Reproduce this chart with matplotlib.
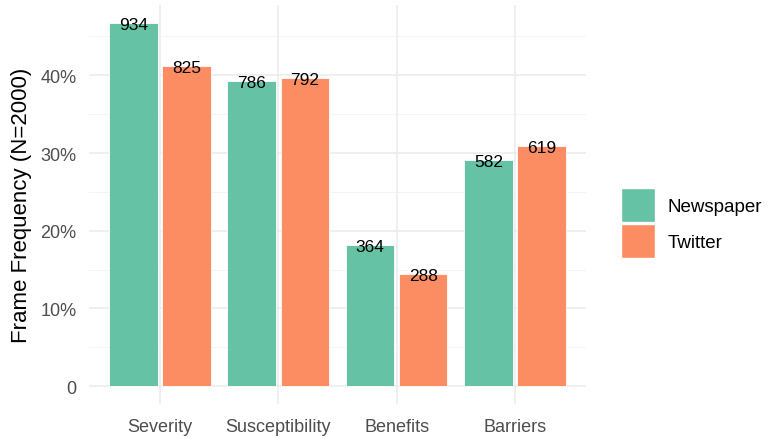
import numpy as np
import matplotlib.pyplot as plt
from matplotlib.patches import Patch

plt.rcParams['font.family'] = ['Liberation Sans', 'DejaVu Sans']

categories = ['Severity', 'Susceptibility', 'Benefits', 'Barriers']
newspaper = [934, 786, 364, 582]
twitter = [825, 792, 288, 619]
n_total = 2000

col_news = '#66C2A5'
col_tw = '#FC8D62'

fig = plt.figure(figsize=(7.74, 4.39), dpi=100)
ax = fig.add_axes([0.115, 0.077, 0.642, 0.909])

x = np.arange(1, len(categories) + 1)
news_p = np.array(newspaper) / n_total
tw_p = np.array(twitter) / n_total
w = 0.41
off = 0.225

ax.bar(x - off, news_p, width=w, color=col_news, edgecolor='white', linewidth=0.6, zorder=2)
ax.bar(x + off, tw_p, width=w, color=col_tw, edgecolor='white', linewidth=0.6, zorder=2)

# count labels at the top of each bar
for xi, p, c in zip(x - off, news_p, newspaper):
    ax.text(xi, p - 0.002, str(c), ha='center', va='center', fontsize=12.5, color='black', zorder=3)
for xi, p, c in zip(x + off, tw_p, twitter):
    ax.text(xi, p - 0.002, str(c), ha='center', va='center', fontsize=12.5, color='black', zorder=3)

ymax = max(news_p.max(), tw_p.max())
ax.set_xlim(0.4, 4.6)
ax.set_ylim(-0.05 * ymax, ymax * 1.05)

ax.set_yticks([0, 0.1, 0.2, 0.3, 0.4])
ax.set_yticklabels(['0', '10%', '20%', '30%', '40%'])
ax.set_yticks([0.05, 0.15, 0.25, 0.35, 0.45], minor=True)
ax.set_xticks(x)
ax.set_xticklabels(categories)

ax.grid(True, which='major', color='#EBEBEB', linewidth=1.1, zorder=0)
ax.grid(True, which='minor', axis='y', color='#F2F2F2', linewidth=0.6, zorder=0)
ax.set_axisbelow(True)
for s in ax.spines.values():
    s.set_visible(False)
ax.tick_params(which='both', length=0)
ax.tick_params(axis='both', labelsize=13, labelcolor='#4D4D4D')
ax.tick_params(axis='y', pad=9)
ax.tick_params(axis='x', pad=10)

ax.set_ylabel('Frame Frequency (N=2000)', fontsize=16, color='black', labelpad=6)

handles = [Patch(facecolor=col_news, edgecolor='white'),
           Patch(facecolor=col_tw, edgecolor='white')]
fig.legend(handles, ['Newspaper', 'Twitter'], loc='center left',
           bbox_to_anchor=(0.78, 0.49), frameon=False, fontsize=13.5,
           handlelength=1.85, handleheight=2.4, handletextpad=0.65, labelspacing=0.1)

fig.savefig('out.png', dpi=100)
